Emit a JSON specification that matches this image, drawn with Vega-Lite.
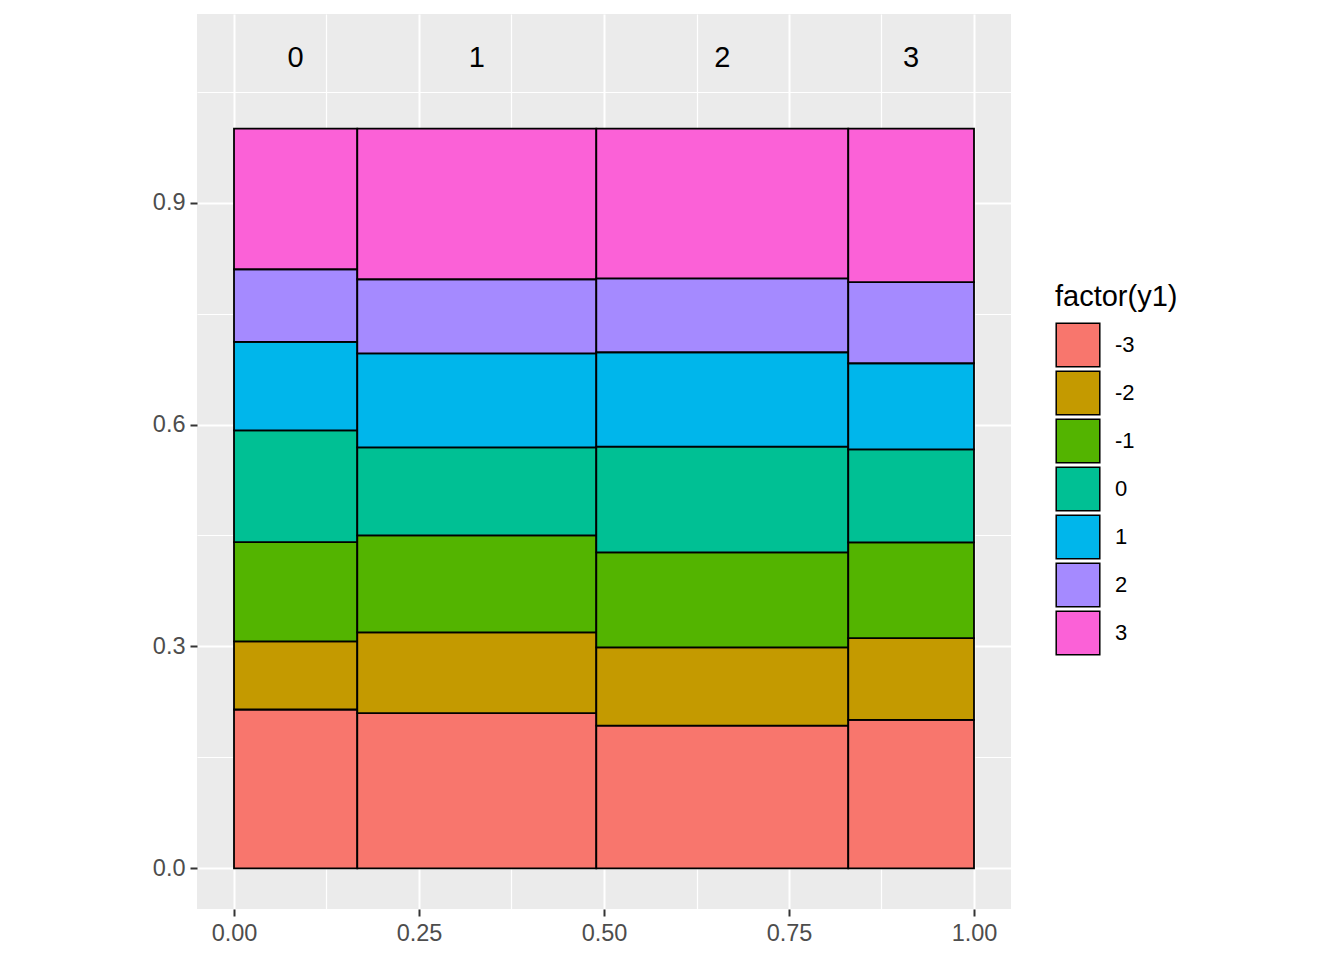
{
  "$schema": "https://vega.github.io/schema/vega-lite/v6.json",
  "width": 814,
  "height": 895,
  "autosize": {"type": "none"},
  "padding": {"left": 197, "top": 14, "right": 333, "bottom": 51},
  "background": "white",
  "view": {"fill": "#EBEBEB", "stroke": null},
  "config": {
    "font": "Liberation Sans",
    "axis": {"domain": false, "title": null, "gridColor": "white"}
  },
  "datasets": {
    "cells": [
      {"col": "0", "y1": "-3", "xmin": 0, "xmax": 0.1666, "ymin": 0, "ymax": 0.2147},
      {"col": "0", "y1": "-2", "xmin": 0, "xmax": 0.1666, "ymin": 0.2147, "ymax": 0.3067},
      {"col": "0", "y1": "-1", "xmin": 0, "xmax": 0.1666, "ymin": 0.3067, "ymax": 0.441},
      {"col": "0", "y1": "0", "xmin": 0, "xmax": 0.1666, "ymin": 0.441, "ymax": 0.5921},
      {"col": "0", "y1": "1", "xmin": 0, "xmax": 0.1666, "ymin": 0.5921, "ymax": 0.7116},
      {"col": "0", "y1": "2", "xmin": 0, "xmax": 0.1666, "ymin": 0.7116, "ymax": 0.8099},
      {"col": "0", "y1": "3", "xmin": 0, "xmax": 0.1666, "ymin": 0.8099, "ymax": 1},
      {"col": "1", "y1": "-3", "xmin": 0.1666, "xmax": 0.4896, "ymin": 0, "ymax": 0.2097},
      {"col": "1", "y1": "-2", "xmin": 0.1666, "xmax": 0.4896, "ymin": 0.2097, "ymax": 0.3189},
      {"col": "1", "y1": "-1", "xmin": 0.1666, "xmax": 0.4896, "ymin": 0.3189, "ymax": 0.4501},
      {"col": "1", "y1": "0", "xmin": 0.1666, "xmax": 0.4896, "ymin": 0.4501, "ymax": 0.5691},
      {"col": "1", "y1": "1", "xmin": 0.1666, "xmax": 0.4896, "ymin": 0.5691, "ymax": 0.6963},
      {"col": "1", "y1": "2", "xmin": 0.1666, "xmax": 0.4896, "ymin": 0.6963, "ymax": 0.7964},
      {"col": "1", "y1": "3", "xmin": 0.1666, "xmax": 0.4896, "ymin": 0.7964, "ymax": 1},
      {"col": "2", "y1": "-3", "xmin": 0.4896, "xmax": 0.8301, "ymin": 0, "ymax": 0.193},
      {"col": "2", "y1": "-2", "xmin": 0.4896, "xmax": 0.8301, "ymin": 0.193, "ymax": 0.2986},
      {"col": "2", "y1": "-1", "xmin": 0.4896, "xmax": 0.8301, "ymin": 0.2986, "ymax": 0.4271},
      {"col": "2", "y1": "0", "xmin": 0.4896, "xmax": 0.8301, "ymin": 0.4271, "ymax": 0.5701},
      {"col": "2", "y1": "1", "xmin": 0.4896, "xmax": 0.8301, "ymin": 0.5701, "ymax": 0.6977},
      {"col": "2", "y1": "2", "xmin": 0.4896, "xmax": 0.8301, "ymin": 0.6977, "ymax": 0.7977},
      {"col": "2", "y1": "3", "xmin": 0.4896, "xmax": 0.8301, "ymin": 0.7977, "ymax": 1},
      {"col": "3", "y1": "-3", "xmin": 0.8301, "xmax": 1, "ymin": 0, "ymax": 0.2008},
      {"col": "3", "y1": "-2", "xmin": 0.8301, "xmax": 1, "ymin": 0.2008, "ymax": 0.3111},
      {"col": "3", "y1": "-1", "xmin": 0.8301, "xmax": 1, "ymin": 0.3111, "ymax": 0.4406},
      {"col": "3", "y1": "0", "xmin": 0.8301, "xmax": 1, "ymin": 0.4406, "ymax": 0.5664},
      {"col": "3", "y1": "1", "xmin": 0.8301, "xmax": 1, "ymin": 0.5664, "ymax": 0.6828},
      {"col": "3", "y1": "2", "xmin": 0.8301, "xmax": 1, "ymin": 0.6828, "ymax": 0.7924},
      {"col": "3", "y1": "3", "xmin": 0.8301, "xmax": 1, "ymin": 0.7924, "ymax": 1}
    ],
    "labels": [
      {"col": "0", "xmid": 0.0833, "ypos": 1.1},
      {"col": "1", "xmid": 0.3281, "ypos": 1.1},
      {"col": "2", "xmid": 0.6599, "ypos": 1.1},
      {"col": "3", "xmid": 0.9151, "ypos": 1.1}
    ]
  },
  "layer": [
    {
      "data": {"name": "cells"},
      "mark": {"type": "rect", "stroke": "black", "strokeWidth": 1.8},
      "encoding": {
        "x": {
          "field": "xmin", "type": "quantitative",
          "scale": {"domain": [-0.05, 1.05], "nice": false, "zero": false},
          "axis": {
            "orient": "bottom", "values": [0, 0.25, 0.5, 0.75, 1], "format": ".2f",
            "grid": true, "gridWidth": 2,
            "tickColor": "#333333", "tickSize": 7, "tickWidth": 2,
            "labelFontSize": 23.5, "labelColor": "#4D4D4D", "labelPadding": 5
          }
        },
        "x2": {"field": "xmax"},
        "y": {
          "field": "ymin", "type": "quantitative",
          "scale": {"domain": [-0.055, 1.155], "nice": false, "zero": false},
          "axis": {
            "orient": "left", "values": [0, 0.3, 0.6, 0.9], "format": ".1f",
            "grid": true, "gridWidth": 2,
            "tickColor": "#333333", "tickSize": 7, "tickWidth": 2,
            "labelFontSize": 23.5, "labelColor": "#4D4D4D", "labelPadding": 5
          }
        },
        "y2": {"field": "ymax"},
        "fill": {
          "field": "y1", "type": "nominal",
          "scale": {
            "domain": ["-3", "-2", "-1", "0", "1", "2", "3"],
            "range": ["#F8766D", "#C49A00", "#53B400", "#00C094", "#00B6EB", "#A58AFF", "#FB61D7"]
          },
          "legend": {
            "title": "factor(y1)", "orient": "none", "legendX": 858, "legendY": 269,
            "titleFontSize": 29, "titleFontWeight": "normal", "titleColor": "black", "titlePadding": 10,
            "labelFontSize": 22, "labelColor": "black", "labelOffset": 14,
            "symbolType": "square", "symbolSize": 1900, "symbolStrokeColor": "black",
            "symbolStrokeWidth": 1.5, "symbolOpacity": 1, "rowPadding": -4, "padding": 0
          }
        }
      }
    },
    {
      "data": {"name": "labels"},
      "mark": {"type": "text", "fontSize": 29, "color": "black", "align": "center", "baseline": "middle", "dy": 3},
      "encoding": {
        "x": {
          "field": "xmid", "type": "quantitative",
          "axis": {
            "orient": "top", "values": [0.125, 0.375, 0.625, 0.875],
            "grid": true, "gridWidth": 1.2, "labels": false, "ticks": false
          }
        },
        "y": {
          "field": "ypos", "type": "quantitative",
          "axis": {
            "orient": "right", "values": [0.15, 0.45, 0.75, 1.05],
            "grid": true, "gridWidth": 1.2, "labels": false, "ticks": false
          }
        },
        "text": {"field": "col", "type": "nominal"}
      }
    }
  ],
  "resolve": {"axis": {"x": "independent", "y": "independent"}}
}
